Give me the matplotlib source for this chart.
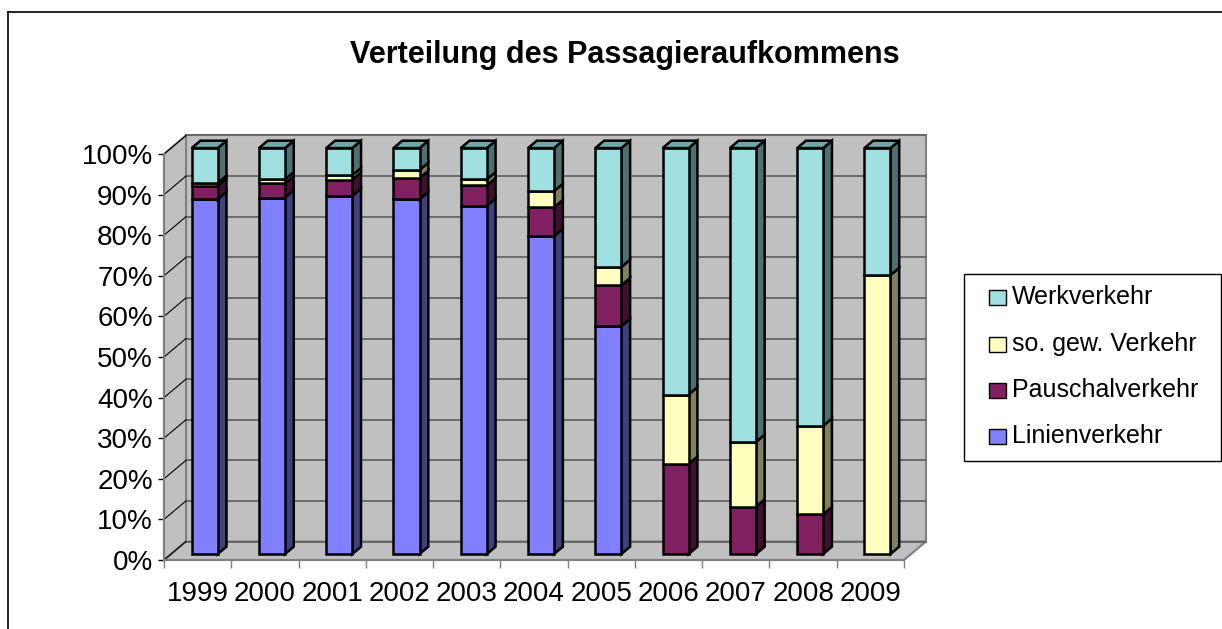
import matplotlib.pyplot as plt
from matplotlib.patches import Polygon, Rectangle
from matplotlib.lines import Line2D

plt.rcParams['font.family'] = ['Liberation Sans', 'DejaVu Sans']

# ---- data (share of passengers, percent) ----
years = ['1999', '2000', '2001', '2002', '2003', '2004', '2005',
         '2006', '2007', '2008', '2009']
linien = [87.4, 87.8, 88.2, 87.4, 85.8, 78.3, 56.1, 0.0, 0.0, 0.0, 0.0]
pauschal = [3.3, 3.5, 4.0, 5.2, 5.0, 7.1, 10.1, 22.2, 11.7, 9.8, 0.0]
sogew = [0.7, 1.0, 1.1, 2.0, 1.5, 4.0, 4.5, 17.1, 15.9, 21.8, 68.7]
werk = [8.6, 7.7, 6.7, 5.4, 7.7, 10.6, 29.3, 60.7, 72.4, 68.4, 31.3]

series = [
    ("Linienverkehr", linien),
    ("Pauschalverkehr", pauschal),
    ("so. gew. Verkehr", sogew),
    ("Werkverkehr", werk),
]
# front face, side face, top face
colors = {
    "Linienverkehr": ('#8080FF', '#404080', '#6060C0'),
    "Pauschalverkehr": ('#802060', '#401030', '#602048'),
    "so. gew. Verkehr": ('#FFFFC0', '#808060', '#C0C090'),
    "Werkverkehr": ('#A0E0E0', '#507070', '#70A8A8'),
}

W, H = 1222, 629
fig = plt.figure(figsize=(W / 100, H / 100), dpi=100)

# front plane of the plot in pixels
px0, px1, py0, py1 = 164, 904, 560, 154
ax = fig.add_axes([px0 / W, 1 - py0 / H, (px1 - px0) / W, (py0 - py1) / H])
n = len(years)
ax.set_xlim(-0.5, n - 0.5)
ax.set_ylim(0, 100)
x_per_px = n / (px1 - px0)
y_per_px = 100 / (py0 - py1)

# 3d depth of the floor / walls
DX = 22 * x_per_px
DY = 18.5 * y_per_px
f0, f1 = 0.32, 0.72        # bar depth range (fraction of full depth)
bw = 0.387                 # bar width in category units

wall_c = '#C0C0C0'
wall_e = '#808080'
xa, xb = -0.5, n - 0.5

# back wall, side wall, floor
ax.add_patch(Polygon([(xa + DX, DY), (xb + DX, DY), (xb + DX, 100 + DY), (xa + DX, 100 + DY)],
                     closed=True, fc=wall_c, ec=wall_e, lw=1.5, clip_on=False, zorder=1))
ax.add_patch(Polygon([(xa, 0), (xa + DX, DY), (xa + DX, 100 + DY), (xa, 100)],
                     closed=True, fc=wall_c, ec=wall_e, lw=1.5, clip_on=False, zorder=1))
ax.add_patch(Polygon([(xa, 0), (xb, 0), (xb + DX, DY), (xa + DX, DY)],
                     closed=True, fc=wall_c, ec=wall_e, lw=1.5, clip_on=False, zorder=1))

for g in range(0, 101, 10):
    ax.plot([xa + DX, xb + DX], [g + DY, g + DY], color='#666666', lw=1.3,
            clip_on=False, zorder=2)
    ax.plot([xa, xa + DX], [g, g + DY], color='black', lw=0.8,
            clip_on=False, zorder=2)

# bars
ex = 'black'
lw = 1.8
for i in range(n):
    cx = i + (f0 * DX)
    left = cx - bw / 2
    right = cx + bw / 2
    dxs = (f1 - f0) * DX
    dys = (f1 - f0) * DY
    y0f = f0 * DY
    bottom = 0.0
    vals = [s[1][i] for s in series]
    top_idx = max(k for k, v in enumerate(vals) if v > 0)
    for k, (name, vs) in enumerate(series):
        v = vs[i]
        if v <= 0:
            continue
        fc, sc, tc = colors[name]
        yb = bottom + y0f
        yt = bottom + v + y0f
        ax.add_patch(Polygon([(right, yb), (right + dxs, yb + dys),
                              (right + dxs, yt + dys), (right, yt)],
                             closed=True, fc=sc, ec=ex, lw=lw, clip_on=False, zorder=3,
                             joinstyle='miter'))
        ax.add_patch(Polygon([(left, yb), (right, yb), (right, yt), (left, yt)],
                             closed=True, fc=fc, ec=ex, lw=lw, clip_on=False, zorder=3,
                             joinstyle='miter'))
        if k == top_idx:
            ax.add_patch(Polygon([(left, yt), (right, yt), (right + dxs, yt + dys),
                                  (left + dxs, yt + dys)],
                                 closed=True, fc=tc, ec=ex, lw=lw, clip_on=False, zorder=3,
                                 joinstyle='miter'))
        bottom += v

# axes lines and ticks
for s in ['top', 'right']:
    ax.spines[s].set_visible(False)
for s in ['left', 'bottom']:
    ax.spines[s].set_color('#808080')
    ax.spines[s].set_linewidth(1.5)
ax.set_facecolor('none')
ax.set_yticks(range(0, 101, 10))
ax.set_yticklabels([f'{v}%' for v in range(0, 101, 10)], fontsize=20)
ax.tick_params(axis='y', length=4, width=1, color='black', pad=4)
ax.set_xticks(range(n))
ax.set_xticklabels(years, fontsize=20)
ax.set_xticks([k - 0.5 for k in range(n + 1)], minor=True)
ax.tick_params(axis='x', which='major', length=0, pad=15)
ax.tick_params(axis='x', which='minor', length=6, width=1, color='#808080')

# title
fig.text(625 / W, 1 - 55 / H, 'Verteilung des Passagieraufkommens',
         ha='center', va='center', fontsize=22, fontweight='bold')

# outer chart border
fig.add_artist(Line2D([8 / W, 8 / W], [1 - 12 / H, 0], transform=fig.transFigure,
                      color='black', lw=1.2))
fig.add_artist(Line2D([8 / W, 1], [1 - 12 / H, 1 - 12 / H], transform=fig.transFigure,
                      color='black', lw=1.2))

# legend (manual, Excel style)
lx0, ly0, lx1, ly1 = 964, 274, 1221, 461
fig.add_artist(Rectangle((lx0 / W, 1 - ly1 / H), (lx1 - lx0) / W, (ly1 - ly0) / H,
                         transform=fig.transFigure, fc='white', ec='black', lw=1))
rows_y = [297, 344, 390, 436]
for (name, _), ry in zip(reversed(series), rows_y):
    fig.add_artist(Rectangle((989 / W, 1 - (ry + 8) / H), 17 / W, 15 / H,
                             transform=fig.transFigure, fc=colors[name][0],
                             ec='black', lw=1))
    fig.text(1012 / W, 1 - ry / H, name, ha='left', va='center', fontsize=18)

fig.savefig('out.png', dpi=100)
